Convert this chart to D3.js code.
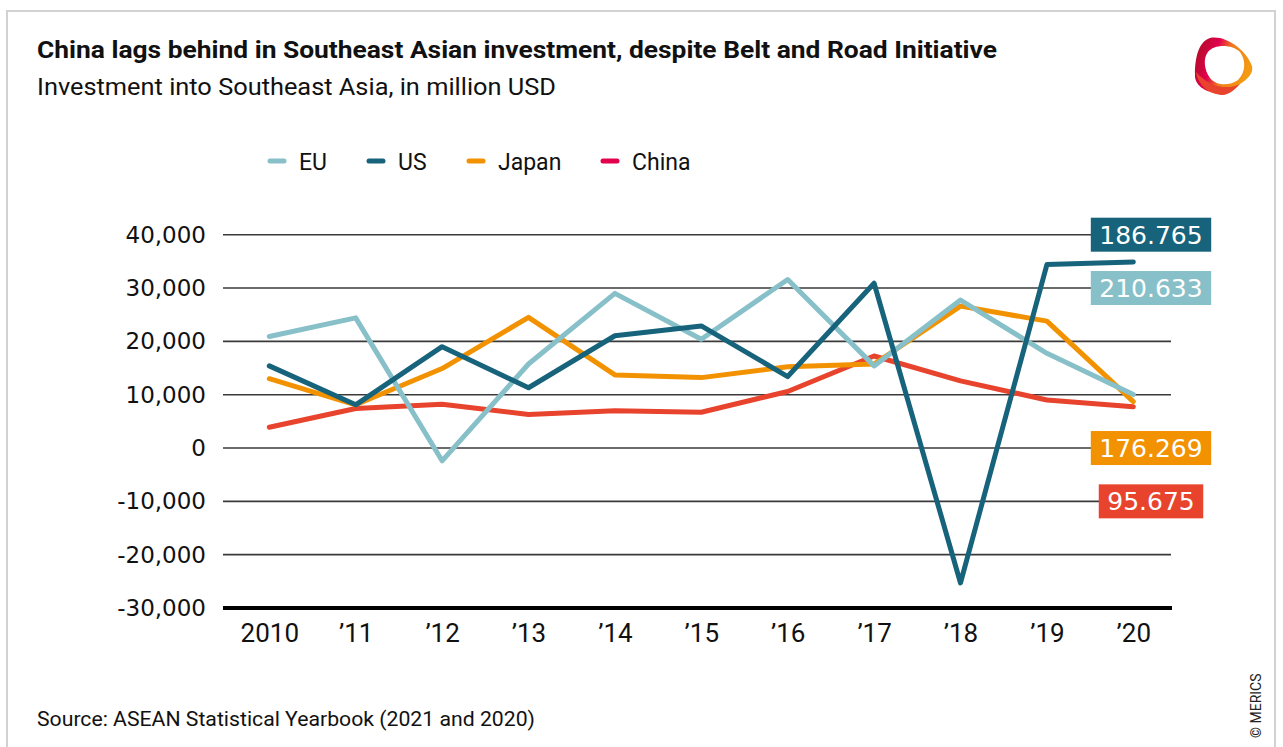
<!DOCTYPE html>
<html>
<head>
<meta charset="utf-8">
<script src="https://cdn.jsdelivr.net/npm/d3@7"></script>
<style>
  body { margin: 0; background: #fff; }
  svg { display: block; }
</style>
</head>
<body>
<div id="chart"></div>
<script>
// data (million USD)
var years = ["2010", "\u201911", "\u201912", "\u201913", "\u201914", "\u201915", "\u201916", "\u201917", "\u201918", "\u201919", "\u201920"];
var eu    = [20900, 24400, -2400, 15750, 29000, 20400, 31600, 15400, 27750, 17750, 10050];
var us    = [15400, 8100, 19000, 11300, 21050, 22900, 13400, 30900, -25300, 34400, 34900];
var japan = [13000, 8100, 14900, 24500, 13700, 13200, 15250, 15750, 26600, 23800, 8700];
var china = [3900, 7400, 8200, 6300, 7000, 6700, 10600, 17250, 12600, 9000, 7750];
var seriesNames = ["EU", "US", "Japan", "China"];
var totals = ["210.633", "186.765", "176.269", "95.675"];
var yTicks = [40000, 30000, 20000, 10000, 0, -10000, -20000, -30000];

var W = 1283, H = 747;
var colors = { EU: "#87c0c8", US: "#17637b", Japan: "#f39200", China: "#e8432d" };
var legendColors = { EU: "#87c0c8", US: "#17637b", Japan: "#f39200", China: "#e2004f" };
var series = { EU: eu, US: us, Japan: japan, China: china };
var condensed = "Roboto, 'Liberation Sans', sans-serif";
var wide = "'DejaVu Sans', Verdana, sans-serif";

var svg = d3.select("#chart").append("svg")
    .attr("width", W)
    .attr("height", H);

// frame
svg.append("rect")
    .attr("x", 7).attr("y", 11)
    .attr("width", 1268).attr("height", 760)
    .attr("fill", "#fff")
    .attr("stroke", "#d2d2d2")
    .attr("stroke-width", 2);

// title + subtitle, stretched to the width they take in the original
svg.append("text")
    .attr("x", 37).attr("y", 58)
    .attr("textLength", 960).attr("lengthAdjust", "spacingAndGlyphs")
    .style("font-family", condensed)
    .style("font-size", "23px")
    .style("font-weight", "bold")
    .attr("fill", "#111")
    .text("China lags behind in Southeast Asian investment, despite Belt and Road Initiative");

svg.append("text")
    .attr("x", 37).attr("y", 95)
    .attr("textLength", 519).attr("lengthAdjust", "spacingAndGlyphs")
    .style("font-family", condensed)
    .style("font-size", "23px")
    .attr("fill", "#111")
    .text("Investment into Southeast Asia, in million USD");

// logo
var defs = svg.append("defs");
var grad = defs.append("linearGradient")
    .attr("id", "logoGrad")
    .attr("x1", "0").attr("y1", "0").attr("x2", "1").attr("y2", "0.35");
grad.append("stop").attr("offset", "0").attr("stop-color", "#a5101b");
grad.append("stop").attr("offset", "0.4").attr("stop-color", "#e2004f");
grad.append("stop").attr("offset", "0.62").attr("stop-color", "#f07b1a");
grad.append("stop").attr("offset", "1").attr("stop-color", "#f39a12");

var logo = svg.append("g");
logo.append("path")
    .attr("d", "M1210,38 C1226,35 1246,50 1252,66 C1254,74 1246,80 1240,84 C1233,90 1228,96 1218,94 C1205,92 1194,85 1195,74 C1195,62 1197,42 1210,38 Z")
    .attr("fill", "url(#logoGrad)");
logo.append("path")
    .attr("d", "M1196,72 C1198,86 1210,94 1222,95 C1230,95 1236,88 1240,84 C1228,90 1210,88 1196,72 Z")
    .attr("fill", "#e8432d");
logo.append("path")
    .attr("d", "M1208,52 C1214,44 1232,44 1240,52 C1246,60 1246,72 1238,80 C1230,86 1216,86 1210,78 C1204,70 1203,58 1208,52 Z")
    .attr("fill", "#fff");

// copyright
svg.append("text")
    .attr("transform", "translate(1261,738) rotate(-90)")
    .style("font-family", condensed)
    .style("font-size", "14px")
    .attr("fill", "#222")
    .text("\u00a9 MERICS");

// source
svg.append("text")
    .attr("x", 37).attr("y", 726)
    .attr("textLength", 498).attr("lengthAdjust", "spacingAndGlyphs")
    .style("font-family", condensed)
    .style("font-size", "20px")
    .attr("fill", "#111")
    .text("Source: ASEAN Statistical Yearbook (2021 and 2020)");

// legend
var legendX = [268, 367, 467, 601];
var legend = svg.append("g");
seriesNames.forEach(function(name, i) {
    var g = legend.append("g").attr("transform", "translate(" + legendX[i] + ",161)");
    g.append("line")
        .attr("x1", 2).attr("x2", 16)
        .attr("stroke", legendColors[name])
        .attr("stroke-width", 5)
        .attr("stroke-linecap", "round");
    g.append("text")
        .attr("x", 31).attr("y", 8.5)
        .style("font-family", condensed)
        .style("font-size", "23px")
        .attr("fill", "#111")
        .text(name);
});

// scales
var x = d3.scalePoint().domain(years).range([269.3, 1133.3]);
var y = d3.scaleLinear().domain([-30000, 40000]).range([608, 234.7]);

// grid
var grid = svg.append("g");
grid.selectAll("line")
    .data(yTicks.filter(function(d) { return d !== -30000; }))
    .enter().append("line")
    .attr("x1", 223).attr("x2", 1171)
    .attr("y1", function(d) { return y(d); })
    .attr("y2", function(d) { return y(d); })
    .attr("stroke", "#3a3a3a")
    .attr("stroke-width", 1.6);

// y axis (plain hyphen for negatives, as in the original)
var fmt = d3.format(",");
var yAxis = svg.append("g")
    .attr("transform", "translate(206,0)")
    .call(d3.axisLeft(y).tickValues(yTicks).tickSize(0).tickPadding(0)
        .tickFormat(function(d) { return fmt(d).replace("\u2212", "-"); }));
yAxis.select(".domain").remove();
yAxis.selectAll("text")
    .style("font-family", wide)
    .style("font-size", "23px")
    .attr("fill", "#111");

// x axis
var xAxis = svg.append("g")
    .attr("transform", "translate(0," + y(-30000) + ")")
    .call(d3.axisBottom(x).tickSize(0).tickPadding(16));
xAxis.select(".domain").remove();
xAxis.selectAll("text")
    .style("font-family", condensed)
    .style("font-size", "26px")
    .attr("fill", "#111");

svg.append("line")
    .attr("x1", 223).attr("x2", 1172)
    .attr("y1", y(-30000)).attr("y2", y(-30000))
    .attr("stroke", "#000")
    .attr("stroke-width", 4);

// lines
var line = d3.line()
    .x(function(d, i) { return x(years[i]); })
    .y(function(d) { return y(d); });

["China", "Japan", "EU", "US"].forEach(function(name) {
    svg.append("path")
        .datum(series[name])
        .attr("d", line)
        .attr("fill", "none")
        .attr("stroke", colors[name])
        .attr("stroke-width", 5)
        .attr("stroke-linejoin", "round")
        .attr("stroke-linecap", "round");
});

// end labels (totals 2010-2020, billion USD)
var labelAt = { EU: 30000, US: 40000, Japan: 0, China: -10000 };
seriesNames.forEach(function(name, i) {
    var cy = y(labelAt[name]);
    var g = svg.append("g");
    var t = g.append("text")
        .attr("x", 1151).attr("y", cy)
        .attr("dy", "0.36em")
        .attr("text-anchor", "middle")
        .style("font-family", wide)
        .style("font-size", "25px")
        .attr("fill", "#fff")
        .text(totals[i]);
    var bb = t.node().getBBox();
    g.insert("rect", "text")
        .attr("x", bb.x - 8.5).attr("y", cy - 17)
        .attr("width", bb.width + 17).attr("height", 34)
        .attr("fill", colors[name]);
});
</script>
</body>
</html>
